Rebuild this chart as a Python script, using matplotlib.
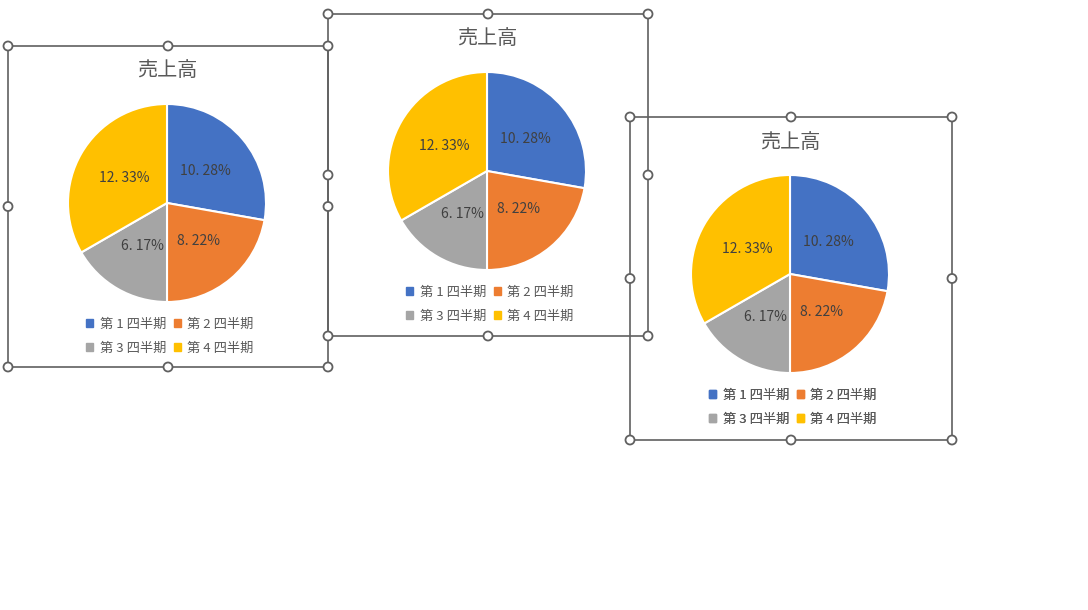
import matplotlib
matplotlib.use("Agg")
import matplotlib.pyplot as plt
from matplotlib.patches import Circle, Rectangle

plt.rcParams['font.family'] = ['Noto Sans CJK JP', 'DejaVu Sans']

# data (same for the three copies of the chart)
title = "売上高"
quarters = ["第 1 四半期", "第 2 四半期", "第 3 四半期", "第 4 四半期"]
sales = [10.28, 8.22, 6.17, 12.33]
colors = ["#4472C4", "#ED7D31", "#A5A5A5", "#FFC000"]

# chart frames in screen pixels: left, top, right, bottom
frames = [(8, 46, 328, 367), (328, 14, 648, 336), (630, 117, 952, 440)]

W, H = 1088, 610
fig = plt.figure(figsize=(W / 100, H / 100), dpi=100)
ax = fig.add_axes([0, 0, 1, 1])

frame_col = "#606060"
text_col = "#595959"


def fmt(v):
    s = "%.2f%%" % v
    return s.replace(".", ". ")


for (x0, y0, x1, y1) in frames:
    cx = (x0 + x1) / 2 - 1
    cy = H - (y0 + 157)
    wedges, texts, autotexts = ax.pie(
        sales, colors=colors, startangle=90, counterclock=False,
        center=(cx, cy), radius=99, autopct=lambda p: fmt(p * sum(sales) / 100),
        pctdistance=0.5, textprops=dict(fontsize=10, color="#404040"),
        wedgeprops=dict(edgecolor="white", linewidth=1.5))
    ax.text(cx, H - (y0 + 25), title, ha="center", va="center",
            fontsize=14.5, color=text_col)
    # legend two rows: Q1 Q2 / Q3 Q4
    order = [0, 2, 1, 3]
    handles = [Rectangle((0, 0), 1, 1, color=colors[i]) for i in order]
    names = [quarters[i] for i in order]
    leg = ax.legend(handles, names, ncol=2, loc="center",
                    bbox_to_anchor=(cx + 3, H - (y0 + 290)),
                    bbox_transform=ax.transData, frameon=False,
                    fontsize=9.5, handlelength=0.55, handleheight=0.55,
                    handletextpad=0.5, columnspacing=0.55, labelspacing=0.85,
                    borderpad=0)
    for t in leg.get_texts():
        t.set_color(text_col)
    ax.add_artist(leg)

# selection frames and handles
for (x0, y0, x1, y1) in frames:
    ax.add_patch(Rectangle((x0, H - y1), x1 - x0, y1 - y0, fill=False,
                           edgecolor=frame_col, linewidth=1.2, zorder=5))
for (x0, y0, x1, y1) in frames:
    xm = (x0 + x1) / 2
    ym = (y0 + y1) / 2
    for hx, hy in [(x0, y0), (xm, y0), (x1, y0), (x0, ym), (x1, ym),
                   (x0, y1), (xm, y1), (x1, y1)]:
        ax.add_patch(Circle((hx, H - hy), 4.5, facecolor="white",
                            edgecolor=frame_col, linewidth=1.3, zorder=6))

ax.set_xlim(0, W)
ax.set_ylim(0, H)
ax.set_aspect("equal")
ax.axis("off")

fig.savefig("out.png", dpi=100, facecolor="white")
